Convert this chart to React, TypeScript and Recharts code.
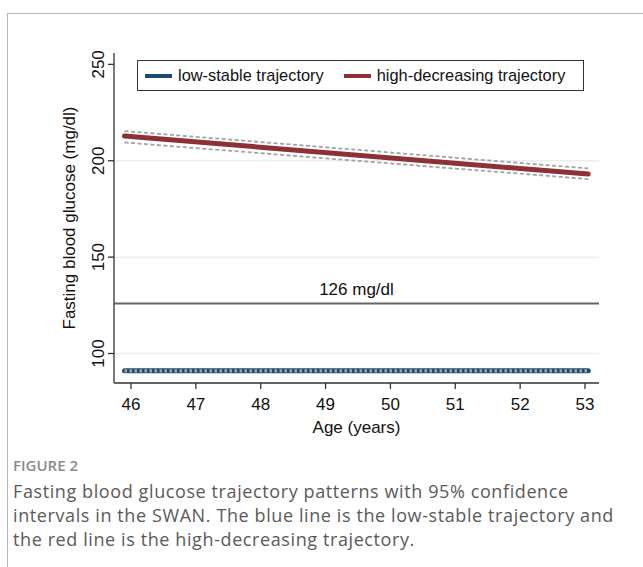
import { LineChart, Line, XAxis, YAxis, CartesianGrid, ReferenceLine } from 'recharts'

// ages at the ends of the fitted lines
const ages = [45.9, 53.05]
const lowStable = [91.0, 91.0]
const lowStableUpper = [91.4, 91.4]
const lowStableLower = [90.6, 90.6]
const highDecreasing = [212.8, 193.1]
const highDecreasingUpper = [215.4, 196.0]
const highDecreasingLower = [209.5, 190.5]

const xTicks = [46, 47, 48, 49, 50, 51, 52, 53]
const yTicks = [100, 150, 200, 250]
const gridValues = [100, 150, 200]
const threshold = 126

const seriesNames = ['low-stable trajectory', 'high-decreasing trajectory']

const data = ages.map((age, i) => ({
    age,
    low: lowStable[i],
    lowHi: lowStableUpper[i],
    lowLo: lowStableLower[i],
    high: highDecreasing[i],
    highHi: highDecreasingUpper[i],
    highLo: highDecreasingLower[i],
}))

const BLUE = '#1d4a73'
const RED = '#8e3038'
const CI = '#a3a3a3'
const AXIS_FONT = "'Liberation Sans', Arial, sans-serif"

function YTick(props: any) {
    const { x, y, payload } = props
    return (
        <text
            x={x - 2}
            y={y}
            transform={`rotate(-90, ${x - 2}, ${y})`}
            textAnchor="middle"
            fontSize={17}
            fontFamily={AXIS_FONT}
            fill="#111"
        >
            {payload.value}
        </text>
    )
}

function YTitle(props: any) {
    const { viewBox } = props
    const cx = 75
    const cy = viewBox.y + viewBox.height / 2
    return (
        <text
            x={cx}
            y={cy}
            transform={`rotate(-90, ${cx}, ${cy})`}
            textAnchor="middle"
            fontSize={17}
            fontFamily={AXIS_FONT}
            fill="#111"
        >
            Fasting blood glucose (mg/dl)
        </text>
    )
}

function XTitle(props: any) {
    const { viewBox } = props
    return (
        <text
            x={viewBox.x + viewBox.width / 2}
            y={433}
            textAnchor="middle"
            fontSize={17}
            fontFamily={AXIS_FONT}
            fill="#111"
        >
            Age (years)
        </text>
    )
}

function ThresholdLabel(props: any) {
    const { viewBox } = props
    return (
        <text
            x={viewBox.x + viewBox.width / 2}
            y={viewBox.y - 8}
            textAnchor="middle"
            fontSize={17}
            fontFamily={AXIS_FONT}
            fill="#111"
        >
            {threshold} mg/dl
        </text>
    )
}

function LegendBox() {
    const item = (color: string, label: string) => (
        <div key={label} style={{ display: 'flex', alignItems: 'center' }}>
            <div style={{ width: 27, height: 4, background: color, marginRight: 6 }} />
            <span>{label}</span>
        </div>
    )
    return (
        <div
            style={{
                position: 'absolute',
                left: 137,
                top: 60,
                display: 'flex',
                alignItems: 'center',
                gap: 20,
                height: 29,
                padding: '0 18px 0 7px',
                border: '1px solid #333',
                background: '#fff',
                fontFamily: AXIS_FONT,
                fontSize: 16.4,
                color: '#111',
                whiteSpace: 'nowrap',
            }}
        >
            {item(BLUE, seriesNames[0])}
            {item(RED, seriesNames[1])}
        </div>
    )
}

export default function App() {
    return (
        <div style={{ position: 'absolute', left: 0, top: 0, width: 643, height: 567, background: '#fff', overflow: 'hidden' }}>
            <div
                style={{
                    position: 'absolute',
                    left: 7,
                    top: 13,
                    width: 650,
                    height: 570,
                    borderTop: '1.5px solid #b8b8b8',
                    borderLeft: '1.5px solid #b8b8b8',
                }}
            />
            <div style={{ position: 'absolute', left: 0, top: 0 }}>
                <LineChart width={643} height={450} data={data} margin={{ top: 53, right: 44, bottom: 0, left: 54 }}>
                    <CartesianGrid horizontal vertical={false} horizontalValues={gridValues} stroke="#e6f0f1" strokeWidth={1.5} />
                    <XAxis
                        dataKey="age"
                        type="number"
                        domain={[45.738, 53.216]}
                        ticks={xTicks}
                        allowDataOverflow
                        height={67}
                        tickSize={6}
                        tickMargin={9}
                        stroke="#333"
                        strokeWidth={1.3}
                        tick={{ fill: '#111', fontSize: 17, fontFamily: AXIS_FONT }}
                        label={<XTitle />}
                    />
                    <YAxis
                        type="number"
                        domain={[84.7, 255.9]}
                        ticks={yTicks}
                        allowDataOverflow
                        width={60}
                        tickSize={6}
                        stroke="#333"
                        strokeWidth={1.3}
                        tick={<YTick />}
                        label={<YTitle />}
                    />
                    <ReferenceLine y={threshold} stroke="#666" strokeWidth={2} label={<ThresholdLabel />} />
                    <Line dataKey="high" name={seriesNames[1]} stroke={RED} strokeWidth={5} dot={false} strokeLinecap="round" isAnimationActive={false} />
                    <Line dataKey="highHi" stroke={CI} strokeWidth={1.8} strokeDasharray="4 2.5" dot={false} isAnimationActive={false} />
                    <Line dataKey="highLo" stroke={CI} strokeWidth={1.8} strokeDasharray="4 2.5" dot={false} isAnimationActive={false} />
                    <Line dataKey="low" name={seriesNames[0]} stroke={BLUE} strokeWidth={5} dot={false} strokeLinecap="round" isAnimationActive={false} />
                    <Line dataKey="lowHi" stroke={CI} strokeWidth={1.8} strokeDasharray="2.5 2.5" dot={false} isAnimationActive={false} />
                    <Line dataKey="lowLo" stroke={CI} strokeWidth={1.8} strokeDasharray="2.5 2.5" dot={false} isAnimationActive={false} />
                </LineChart>
            </div>
            <LegendBox />
            <div
                style={{
                    position: 'absolute',
                    left: 13,
                    top: 455,
                    fontFamily: "'Open Sans', sans-serif",
                    fontSize: 15,
                    fontWeight: 600,
                    color: '#8a8a8a',
                }}
            >
                FIGURE 2
            </div>
            <div
                style={{
                    position: 'absolute',
                    left: 13,
                    top: 479,
                    fontFamily: "'Open Sans', sans-serif",
                    fontSize: 18,
                    letterSpacing: 0.6,
                    lineHeight: '24px',
                    color: '#5a5a5a',
                    whiteSpace: 'nowrap',
                }}
            >
                Fasting blood glucose trajectory patterns with 95% confidence
                <br />
                intervals in the SWAN. The blue line is the low-stable trajectory and
                <br />
                the red line is the high-decreasing trajectory.
            </div>
        </div>
    )
}
